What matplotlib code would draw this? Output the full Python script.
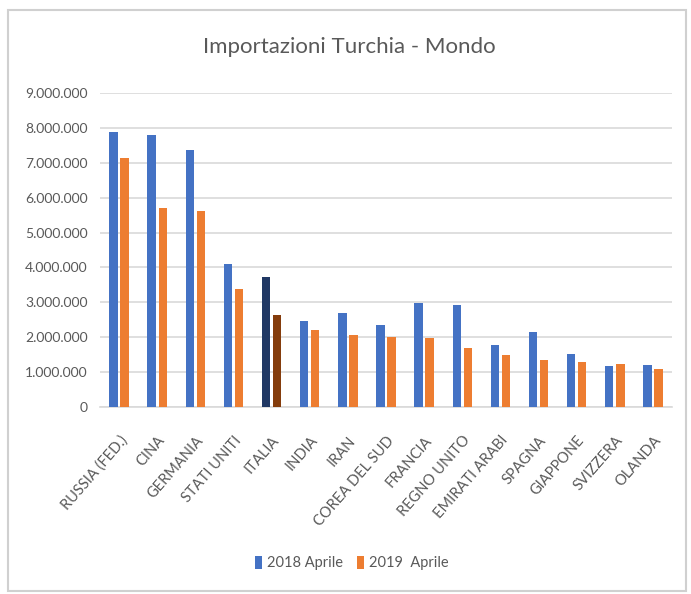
import numpy as np
import matplotlib.pyplot as plt
from matplotlib.ticker import FuncFormatter
from matplotlib.patches import Rectangle

# data
paesi = ['RUSSIA (FED.)', 'CINA', 'GERMANIA', 'STATI UNITI', 'ITALIA', 'INDIA', 'IRAN',
         'COREA DEL SUD', 'FRANCIA', 'REGNO UNITO', 'EMIRATI ARABI', 'SPAGNA',
         'GIAPPONE', 'SVIZZERA', 'OLANDA']
aprile_2018 = [7890000, 7810000, 7380000, 4110000, 3730000, 2460000, 2680000,
               2360000, 2970000, 2930000, 1770000, 2150000, 1510000, 1170000, 1200000]
aprile_2019 = [7130000, 5710000, 5630000, 3380000, 2650000, 2220000, 2050000,
               2000000, 1970000, 1700000, 1480000, 1360000, 1300000, 1230000, 1080000]

plt.rcParams['font.family'] = ['Lato', 'DejaVu Sans']

fig = plt.figure(figsize=(6.91, 5.94), dpi=100)
ax = fig.add_axes([100/691, 1 - 407/594, (672-100)/691, (407-93)/594])

x = np.arange(len(paesi))
w = 0.22
col18 = ['#4472C4'] * len(paesi)
col19 = ['#ED7D31'] * len(paesi)
col18[paesi.index('ITALIA')] = '#203864'
col19[paesi.index('ITALIA')] = '#843C0C'

ax.bar(x - w/2 - 0.035, aprile_2018, w, color=col18, label='2018 Aprile', zorder=3)
ax.bar(x + w/2 + 0.035, aprile_2019, w, color=col19, label='2019  Aprile', zorder=3)

ax.set_xlim(-0.5, len(paesi) - 0.5)
ax.set_ylim(0, 9000000)
ax.set_yticks(np.arange(0, 9000001, 1000000))
ax.yaxis.set_major_formatter(FuncFormatter(lambda v, p: f'{int(v):,}'.replace(',', '.')))
ax.grid(axis='y', color='#D9D9D9', linewidth=1.2, zorder=0)
for s in ['top', 'right', 'left']:
    ax.spines[s].set_visible(False)
ax.spines['bottom'].set_color('#D9D9D9')
ax.spines['bottom'].set_linewidth(1.2)
ax.tick_params(axis='both', length=0, colors='#595959')
ax.tick_params(axis='y', pad=9, labelsize=10)
ax.tick_params(axis='x', pad=19, labelsize=10.5)
ax.set_xticks(x)
ax.set_xticklabels(paesi, rotation=49, ha='right', rotation_mode='anchor')

fig.text(349/691, 1 - 47/594, 'Importazioni Turchia - Mondo', ha='center', va='center',
         fontsize=16, color='#595959')

leg = fig.legend(loc='center', bbox_to_anchor=(352/691, 1 - 563/594), ncol=2, frameon=False,
                 fontsize=10.5, handlelength=0.45, handleheight=1.0, columnspacing=1.0,
                 handletextpad=0.35)
for t in leg.get_texts():
    t.set_color('#595959')

fig.patches.append(Rectangle((8/691, 1 - 591/594), 678/691, 581/594, transform=fig.transFigure,
                             fill=False, edgecolor='#D0D0D0', linewidth=1.5))

fig.savefig('out.png', dpi=100)
